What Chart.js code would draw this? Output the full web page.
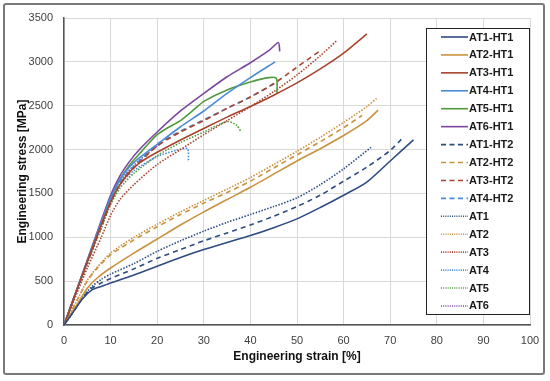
<!DOCTYPE html>
<html>
<head>
<meta charset="utf-8">
<script src="https://cdn.jsdelivr.net/npm/chart.js@4/dist/chart.umd.min.js"></script>
<style>
html,body{margin:0;padding:0;background:#fff;}
#wrap{position:relative;width:550px;height:381px;}
#c{position:absolute;left:0;top:0;}
#frame{position:absolute;left:3px;top:3px;width:538px;height:368px;border:2px solid #7a7a7a;border-radius:3px;pointer-events:none;}
</style>
</head>
<body>
<div id="wrap"><canvas id="c" width="550" height="381"></canvas><div id="frame"></div></div>
<script>
// ---- data (strain %, stress MPa) ----
const xTicks = [0,10,20,30,40,50,60,70,80,90,100];
const yTicks = [0,500,1000,1500,2000,2500,3000,3500];

const at1ht1X = [0,2,4,6,8,10,15,20,25,30,35,40,45,50,55,60,65,70,75];
const at1ht1Y = [0,150,300,400,440,480,570,670,770,860,940,1020,1110,1210,1340,1480,1630,1870,2110];
const at2ht1X = [0,3,5,7,10,15,20,25,30,35,40,45,50,55,60,65,67.4];
const at2ht1Y = [0,250,420,530,650,820,980,1140,1290,1430,1570,1720,1870,2010,2160,2330,2450];
const at3ht1X = [0,5,8,10,12,14,16,18,20,25,30,35,40,45,50,55,60,65];
const at3ht1Y = [0,720,1140,1400,1600,1740,1840,1910,1970,2110,2240,2370,2490,2620,2760,2920,3100,3320];
const at4ht1X = [0,5,8,10,12,14,16,18,20,25,30,35,40,45.3];
const at4ht1Y = [0,730,1170,1450,1660,1800,1900,1980,2060,2260,2440,2640,2820,3000];
const at5ht1X = [0,5,8,10,12,14,16,18,20,22,25,28,30,35,40,44,45.6,45.7];
const at5ht1Y = [0,730,1160,1440,1660,1820,1940,2060,2170,2240,2330,2460,2550,2680,2770,2820,2810,2640];
const at6ht1X = [0,5,8,10,12,14,16,20,25,30,35,40,44,46,46.3];
const at6ht1Y = [0,740,1190,1480,1700,1860,1990,2200,2440,2640,2830,2990,3130,3220,3120];

const at1ht2X = [0,2,4,6,8,10,15,20,25,30,35,40,45,50,55,60,65,70,73];
const at1ht2Y = [0,150,310,420,480,530,640,760,860,960,1050,1140,1240,1350,1480,1640,1800,1990,2150];
const at2ht2X = [0,3,5,7,10,15,20,25,30,35,40,45,50,55,60,64];
const at2ht2Y = [0,300,500,640,800,970,1120,1260,1390,1510,1640,1790,1940,2090,2250,2390];
const at3ht2X = [0,5,8,10,12,15,20,25,30,35,40,45,50,55.3];
const at3ht2Y = [0,710,1120,1390,1600,1790,2040,2200,2330,2470,2600,2750,2940,3140];
const at4ht2X = [0,5,8,10,12,15,20,25,30,35,40,46];
const at4ht2Y = [0,720,1150,1420,1630,1810,2060,2210,2340,2470,2600,2780];

const at1X = [0,2,4,6,8,10,15,20,25,30,35,40,45,50,55,60,66];
const at1Y = [0,150,320,440,520,580,700,840,960,1070,1170,1260,1350,1450,1600,1780,2030];
const at2X = [0,3,5,7,10,15,20,25,30,35,40,45,50,55,60,65,67.2];
const at2Y = [0,300,510,650,820,1000,1150,1290,1420,1550,1680,1830,1980,2140,2310,2490,2590];
const at3X = [0,5,8,10,12,15,20,25,30,35,40,45,50,55,58.5];
const at3Y = [0,650,1000,1250,1430,1600,1830,2000,2170,2330,2490,2660,2850,3070,3240];
const at4X = [0,5,8,10,12,15,20,24,26.5,26.7];
const at4Y = [0,710,1130,1400,1600,1760,1920,1990,2010,1860];
const at5X = [0,5,8,10,12,15,20,25,30,35,37,38];
const at5Y = [0,700,1100,1370,1560,1730,1930,2080,2200,2320,2280,2200];
const at6X = [0,5,8,10,12,15,18,21];
const at6Y = [0,720,1160,1450,1640,1820,1960,2080];

const C = {
  navy:'#2E4B82', gold:'#C9923E', brown:'#A8432E',
  blue:'#4B8BD6', green:'#4F9A3B', purple:'#7B479F'
};
const DASH = [5,4], DOT = [1.5,1.5];

function pts(xs, ys){ return xs.map((x,i)=>({x:x, y:ys[i]})); }
function ds(label, xs, ys, color, dash){
  return {label, data: pts(xs,ys), borderColor: color, backgroundColor: color,
    borderWidth: 1.6, borderDash: dash, pointRadius: 0, tension: 0.25, fill:false};
}

const datasets = [
  ds('AT1-HT1', at1ht1X, at1ht1Y, C.navy, []),
  ds('AT2-HT1', at2ht1X, at2ht1Y, C.gold, []),
  ds('AT3-HT1', at3ht1X, at3ht1Y, C.brown, []),
  ds('AT4-HT1', at4ht1X, at4ht1Y, C.blue, []),
  ds('AT5-HT1', at5ht1X, at5ht1Y, C.green, []),
  ds('AT6-HT1', at6ht1X, at6ht1Y, C.purple, []),
  ds('AT1-HT2', at1ht2X, at1ht2Y, C.navy, DASH),
  ds('AT2-HT2', at2ht2X, at2ht2Y, C.gold, DASH),
  ds('AT3-HT2', at3ht2X, at3ht2Y, C.brown, DASH),
  ds('AT4-HT2', at4ht2X, at4ht2Y, C.blue, DASH),
  ds('AT1', at1X, at1Y, C.navy, DOT),
  ds('AT2', at2X, at2Y, C.gold, DOT),
  ds('AT3', at3X, at3Y, C.brown, DOT),
  ds('AT4', at4X, at4Y, C.blue, DOT),
  ds('AT5', at5X, at5Y, C.green, DOT),
  ds('AT6', at6X, at6Y, C.purple, DOT)
];

const boxLegend = {
  id:'boxLegend',
  afterDatasetsDraw(chart){
    const ctx = chart.ctx, ca = chart.chartArea;
    const w = 104, h = 287;
    const left = ca.right - w, top = ca.top + 10;
    ctx.save();
    ctx.fillStyle = '#fff';
    ctx.fillRect(left, top, w, h);
    ctx.strokeStyle = '#222';
    ctx.lineWidth = 1;
    ctx.strokeRect(left+0.5, top+0.5, w-1, h-1);
    ctx.font = 'bold 11px "Liberation Sans", Arial, sans-serif';
    ctx.textBaseline = 'middle';
    ctx.textAlign = 'left';
    chart.data.datasets.forEach((d, i) => {
      const y = top + 9 + i * 17.93;
      ctx.strokeStyle = d.borderColor;
      ctx.lineWidth = 1.6;
      ctx.setLineDash(d.borderDash && d.borderDash.length ? (d.borderDash[0] < 2 ? [1,1.2] : [5,3.5]) : []);
      ctx.beginPath();
      ctx.moveTo(left + 15, y);
      ctx.lineTo(left + 42, y);
      ctx.stroke();
      ctx.setLineDash([]);
      ctx.fillStyle = '#1a1a1a';
      ctx.fillText(d.label, left + 43, y + 0.5);
    });
    ctx.restore();
  }
};

new Chart(document.getElementById('c'), {
  type: 'line',
  data: { datasets },
  options: {
    responsive: false,
    animation: false,
    layout: { padding: { left: 0, right: 20, top: 18, bottom: 0 } },
    plugins: { legend: { display: false }, tooltip: { enabled: false } },
    scales: {
      x: {
        type: 'linear', min: 0, max: 100,
        afterBuildTicks: s => { s.ticks = xTicks.map(v => ({value: v})); },
        afterFit: s => { s.height = 56; },
        ticks: { color: '#404040', font: { size: 11, family: '"Liberation Sans", Arial, sans-serif' }, padding: 9, maxRotation: 0,
          callback: v => String(v) },
        grid: { color: '#d9d9d9', lineWidth: 1, drawTicks: false },
        border: { color: '#555', width: 1.5 },
        title: { display: true, text: 'Engineering strain [%]', color: '#111',
          font: { size: 12, weight: 'bold', family: '"Liberation Sans", Arial, sans-serif' },
          padding: { top: 4, bottom: 17 } }
      },
      y: {
        type: 'linear', min: 0, max: 3500,
        afterBuildTicks: s => { s.ticks = yTicks.map(v => ({value: v})); },
        afterFit: s => { s.width = 64; },
        ticks: { color: '#404040', font: { size: 11, family: '"Liberation Sans", Arial, sans-serif' }, padding: 11,
          callback: v => String(v) },
        grid: { color: '#d9d9d9', lineWidth: 1, drawTicks: false },
        border: { color: '#555', width: 1.5 },
        title: { display: true, text: 'Engineering stress [MPa]', color: '#111',
          font: { size: 12, weight: 'bold', family: '"Liberation Sans", Arial, sans-serif' },
          padding: { top: 15, bottom: 0 } }
      }
    }
  },
  plugins: [boxLegend]
});
</script>
</body>
</html>
